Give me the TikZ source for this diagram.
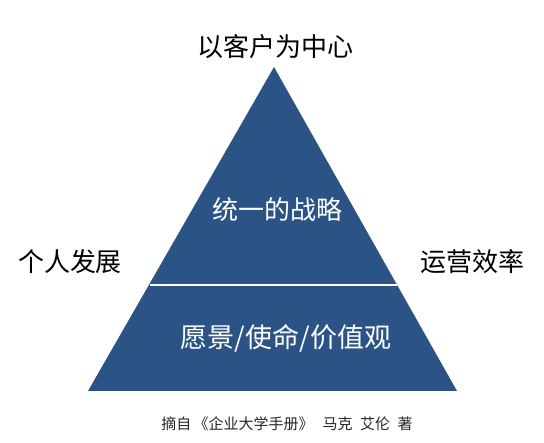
\documentclass[tikz,border=0pt]{standalone}
\usepackage{fontspec}
\newfontfamily\cjk{Noto Sans CJK SC}
\definecolor{pyr}{HTML}{2B5386}
\begin{document}
\begin{tikzpicture}[x=1pt,y=-1pt,
  lbl/.style={font=\cjk\fontsize{26}{26}\selectfont, inner sep=0pt, anchor=center},
  wlbl/.style={lbl, text=white}]
\useasboundingbox (0,0) rectangle (544,443);
\fill[white] (0,0) rectangle (544,443);
\coordinate (apex) at (274,67);
\coordinate (bl) at (88,391);
\coordinate (br) at (457,391);
\fill[pyr] (apex) -- (br) -- (bl) -- cycle;
\coordinate (sl) at (150,285);
\coordinate (sr) at (397,285);
\draw[white, line width=2pt] (sl) -- (sr);
\node[lbl] (top) at (275,47) {以客户为中心};
\node[wlbl] (strat) at (277,210) {统一的战略};
\node[lbl] (left) at (70,262) {个人发展};
\node[lbl] (right) at (472,262) {运营效率};
\node[wlbl, font=\cjk\fontsize{27}{27}\selectfont] (vision) at (286,338) {愿景/使命/价值观};
\node[font=\cjk\fontsize{15}{15}\selectfont, inner sep=0pt, text=black!85] (src) at (287,424) {摘自\hspace{0.15em}《企业大学手册》\hspace{0.6em}马克\hspace{0.5em}艾伦\hspace{0.5em}著};
\end{tikzpicture}
\end{document}
